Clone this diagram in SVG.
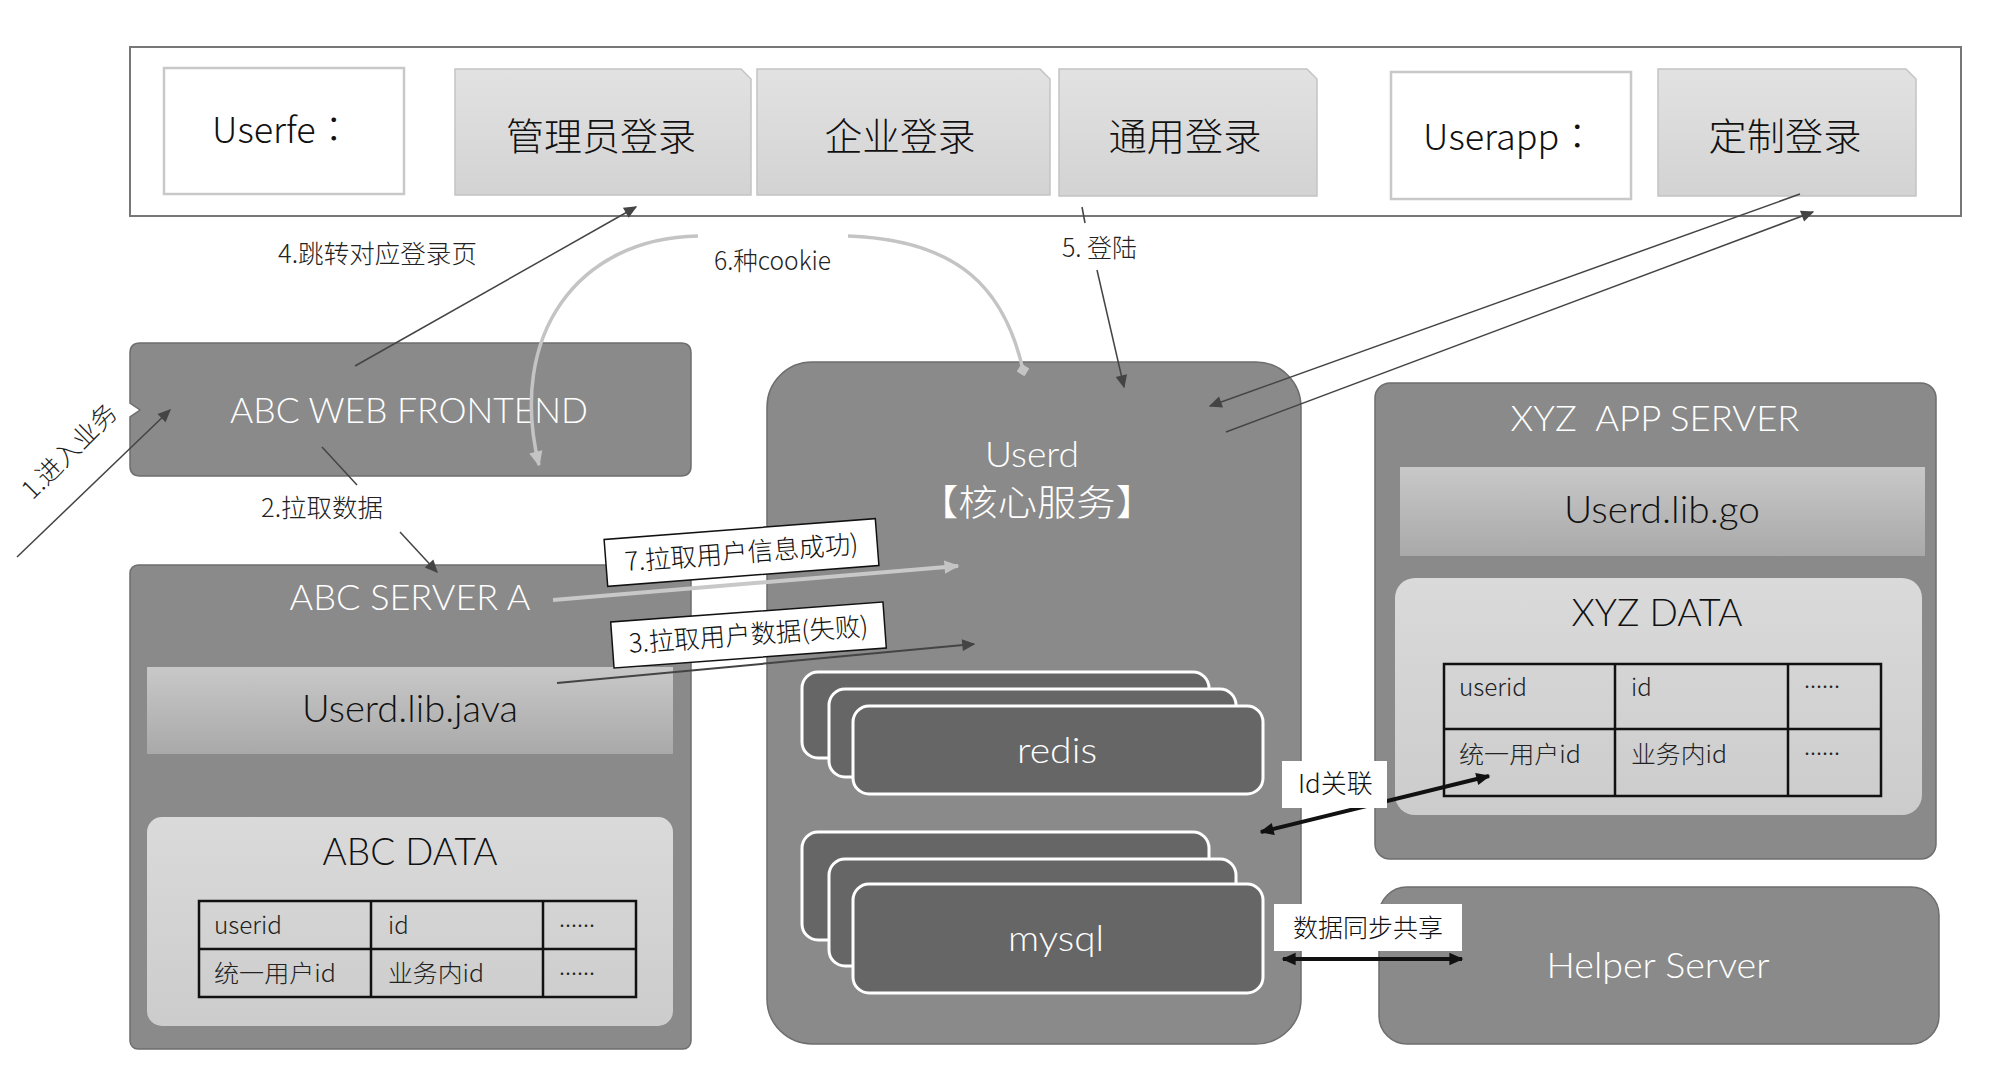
<svg xmlns="http://www.w3.org/2000/svg" width="2000" height="1079" viewBox="0 0 2000 1079">
<style>
text{font-family:"Noto Sans CJK SC","Noto Sans",sans-serif;}
.tc{font-family:"Noto Sans CJK TC","Noto Sans",sans-serif;font-weight:300;}
.la{font-family:"Lato","Noto Sans CJK SC",sans-serif;font-weight:300;}
.big{font-size:38px;fill:#111;font-weight:300;}
.wt{font-size:36px;fill:#fff;}
.bk{font-size:38px;fill:#111;}
.sm{font-size:25.5px;fill:#222;font-weight:300;}
.tb{font-size:24px;fill:#222;font-weight:300;}
.srv{fill:#8a8a8a;stroke:#6e6e6e;stroke-width:1.5;}
.stk{fill:#666;stroke:#fff;stroke-width:3;}
.login{fill:url(#gl);stroke:#c4c4c4;stroke-width:1.5;}
.wbox{fill:#fff;stroke:#c8c8c8;stroke-width:2.5;}
.data{fill:url(#gd);}
.band{fill:url(#gb);}
.grid{fill:none;stroke:#111;stroke-width:2.5;}
.ln{fill:none;stroke:#444;stroke-width:1.5;}
.lbl{fill:#fff;stroke:#111;stroke-width:1.5;}
</style>
<defs>
<linearGradient id="gl" x1="0" y1="0" x2="0" y2="1"><stop offset="0" stop-color="#e2e2e2"/><stop offset="1" stop-color="#d3d3d3"/></linearGradient>
<linearGradient id="gb" x1="0" y1="0" x2="0" y2="1"><stop offset="0" stop-color="#c8c8c8"/><stop offset="1" stop-color="#a9a9a9"/></linearGradient>
<linearGradient id="gd" x1="0" y1="0" x2="0" y2="1"><stop offset="0" stop-color="#dadada"/><stop offset="1" stop-color="#cccccc"/></linearGradient>
<marker id="ah" viewBox="0 0 10 10" refX="9" refY="5" markerWidth="15" markerHeight="13" markerUnits="userSpaceOnUse" orient="auto"><path d="M0,0.5 L10,5 L0,9.5 z" fill="#444"/></marker>
<marker id="ahl" viewBox="0 0 10 10" refX="9" refY="5" markerWidth="17" markerHeight="15" markerUnits="userSpaceOnUse" orient="auto"><path d="M0,0.5 L10,5 L0,9.5 z" fill="#c4c4c4"/></marker>
<marker id="ahb" viewBox="0 0 10 10" refX="9" refY="5" markerWidth="16" markerHeight="14" markerUnits="userSpaceOnUse" orient="auto-start-reverse"><path d="M0,0.5 L10,5 L0,9.5 z" fill="#111"/></marker>
<marker id="dm" viewBox="0 0 10 10" refX="5" refY="5" markerWidth="13" markerHeight="13" markerUnits="userSpaceOnUse" orient="auto"><path d="M0,5 L5,0 L10,5 L5,10 z" fill="#c4c4c4"/></marker>
</defs>

<g id="top-frame">
<rect x="130" y="47" width="1831" height="169" fill="#fff" stroke="#777" stroke-width="2"/>
</g>
<g id="userfe">
<rect class="wbox" x="164" y="68" width="240" height="126"/>
<text class="tc" x="212" y="143" font-size="36" fill="#111">Userfe：</text>
</g>
<g id="login-admin">
<path class="login" d="M455,69 H741 L751,79 V195 H455 Z"/>
<text class="big" x="601" y="150" text-anchor="middle" textLength="190" lengthAdjust="spacingAndGlyphs">管理员登录</text>
</g>
<g id="login-enterprise">
<path class="login" d="M757,69 H1040 L1050,79 V195 H757 Z"/>
<text class="big" x="900" y="150" text-anchor="middle" textLength="151" lengthAdjust="spacingAndGlyphs">企业登录</text>
</g>
<g id="login-common">
<path class="login" d="M1059,69 H1307 L1317,79 V196 H1059 Z"/>
<text class="big" x="1185" y="150" text-anchor="middle" textLength="153" lengthAdjust="spacingAndGlyphs">通用登录</text>
</g>
<g id="userapp">
<rect class="wbox" x="1391" y="72" width="240" height="127"/>
<text class="tc" x="1423" y="150" font-size="36" fill="#111">Userapp：</text>
</g>
<g id="login-custom">
<path class="login" d="M1658,69 H1906 L1916,79 V196 H1658 Z"/>
<text class="big" x="1785" y="150" text-anchor="middle" textLength="153" lengthAdjust="spacingAndGlyphs">定制登录</text>
</g>

<g id="abc-web-frontend">
<path class="srv" d="M140,343 H681 Q691,343 691,353 V466 Q691,476 681,476 H140 Q130,476 130,466 V417 L140,410 L130,403 V353 Q130,343 140,343 Z"/>
<text class="wt la" x="409" y="423" text-anchor="middle" textLength="358" lengthAdjust="spacingAndGlyphs">ABC WEB FRONTEND</text>
</g>

<g id="abc-server-a">
<rect class="srv" x="130" y="565" width="561" height="484" rx="8"/>
<text class="wt la" x="410" y="610" text-anchor="middle" textLength="241" lengthAdjust="spacingAndGlyphs">ABC SERVER A</text>
<rect class="band" x="147" y="667" width="526" height="87"/>
<text class="bk la" x="410" y="722" text-anchor="middle" textLength="216" lengthAdjust="spacingAndGlyphs">Userd.lib.java</text>
<rect class="data" x="147" y="817" width="526" height="209" rx="15"/>
<text class="bk la" x="410" y="865" text-anchor="middle" textLength="175" lengthAdjust="spacingAndGlyphs">ABC DATA</text>
<rect class="grid" x="199" y="901" width="437" height="96"/>
<path class="grid" d="M371,901 V997 M543,901 V997 M199,949 H636"/>
<text class="tb" x="214" y="934" textLength="68" lengthAdjust="spacingAndGlyphs">userid</text>
<text class="tb" x="388" y="934">id</text>
<text class="tb" x="559" y="927" font-size="18">......</text>
<text class="tb" x="214" y="982" textLength="122" lengthAdjust="spacingAndGlyphs">统一用户id</text>
<text class="tb" x="388" y="982" textLength="96" lengthAdjust="spacingAndGlyphs">业务内id</text>
<text class="tb" x="559" y="975" font-size="18">......</text>
</g>

<g id="userd">
<rect class="srv" x="767" y="362" width="534" height="682" rx="45"/>
<text class="wt la" x="1032" y="467" text-anchor="middle" font-size="36" textLength="94" lengthAdjust="spacingAndGlyphs">Userd</text>
<text class="wt" x="1037" y="516" text-anchor="middle" font-size="38" font-weight="300" textLength="236" lengthAdjust="spacingAndGlyphs">【核心服务】</text>
</g>
<g id="redis">
<rect class="stk" x="802" y="672" width="407" height="86" rx="16"/>
<rect class="stk" x="829" y="689" width="407" height="88" rx="16"/>
<rect class="stk" x="853" y="706" width="410" height="88" rx="16"/>
<text class="wt la" x="1057" y="763" text-anchor="middle" font-size="38" textLength="80" lengthAdjust="spacingAndGlyphs">redis</text>
</g>
<g id="mysql">
<rect class="stk" x="802" y="832" width="407" height="108" rx="16"/>
<rect class="stk" x="829" y="859" width="407" height="107" rx="16"/>
<rect class="stk" x="853" y="884" width="410" height="109" rx="16"/>
<text class="wt la" x="1056" y="951" text-anchor="middle" font-size="38" textLength="96" lengthAdjust="spacingAndGlyphs">mysql</text>
</g>

<g id="xyz-app-server">
<rect class="srv" x="1375" y="383" width="561" height="476" rx="15"/>
<text class="wt la" x="1655" y="431" text-anchor="middle" textLength="289" lengthAdjust="spacingAndGlyphs" xml:space="preserve">XYZ  APP SERVER</text>
<rect class="band" x="1400" y="467" width="525" height="89"/>
<text class="bk la" x="1662" y="523" text-anchor="middle" textLength="196" lengthAdjust="spacingAndGlyphs">Userd.lib.go</text>
<rect class="data" x="1395" y="578" width="527" height="237" rx="20"/>
<text class="bk la" x="1657" y="626" text-anchor="middle" textLength="171" lengthAdjust="spacingAndGlyphs">XYZ DATA</text>
<rect class="grid" x="1444" y="664" width="437" height="132"/>
<path class="grid" d="M1615,664 V796 M1788,664 V796 M1444,729 H1881"/>
<text class="tb" x="1459" y="696" textLength="68" lengthAdjust="spacingAndGlyphs">userid</text>
<text class="tb" x="1631" y="696">id</text>
<text class="tb" x="1804" y="688" font-size="18">......</text>
<text class="tb" x="1459" y="763" textLength="122" lengthAdjust="spacingAndGlyphs">统一用户id</text>
<text class="tb" x="1631" y="763" textLength="96" lengthAdjust="spacingAndGlyphs">业务内id</text>
<text class="tb" x="1804" y="755" font-size="18">......</text>
</g>

<g id="helper-server">
<rect class="srv" x="1379" y="887" width="560" height="157" rx="28"/>
<text class="wt la" x="1658" y="978" text-anchor="middle" font-size="38" textLength="223" lengthAdjust="spacingAndGlyphs">Helper Server</text>
</g>

<g id="connectors">
<line class="ln" x1="17" y1="557" x2="170" y2="410" marker-end="url(#ah)"/>
<text class="sm" transform="translate(70 452) rotate(-45)" text-anchor="middle" y="8">1.进入业务</text>

<line class="ln" x1="322" y1="447" x2="357" y2="485"/>
<line class="ln" x1="400" y1="532" x2="437" y2="572" marker-end="url(#ah)"/>
<text class="sm" x="261" y="517" textLength="122" lengthAdjust="spacingAndGlyphs">2.拉取数据</text>

<line class="ln" x1="355" y1="366" x2="636" y2="207" marker-end="url(#ah)"/>
<text class="sm" x="278" y="263" textLength="199" lengthAdjust="spacingAndGlyphs">4.跳转对应登录页</text>

<line class="ln" x1="1082" y1="207" x2="1085" y2="223"/>
<line class="ln" x1="1097" y1="270" x2="1124" y2="387" marker-end="url(#ah)"/>
<text class="sm" x="1062" y="257" xml:space="preserve" textLength="75" lengthAdjust="spacingAndGlyphs">5. 登陆</text>

<line class="ln" x1="1800" y1="194" x2="1210" y2="406" marker-end="url(#ah)"/>
<line class="ln" x1="1226" y1="432" x2="1813" y2="212" marker-end="url(#ah)"/>

<path d="M1023,370 C1005,290 960,240 848,236 M698,236 C578,238 507,335 539,465" fill="none" stroke="#c4c4c4" stroke-width="3.5" marker-start="url(#dm)" marker-end="url(#ahl)"/>
<text class="sm" x="714" y="270" textLength="117" lengthAdjust="spacingAndGlyphs">6.种cookie</text>

<line x1="553" y1="600" x2="958" y2="566" stroke="#c8c8c8" stroke-width="4" marker-end="url(#ahl)"/>
<line x1="557" y1="683" x2="974" y2="644" stroke="#444" stroke-width="2" marker-end="url(#ah)"/>

<g transform="rotate(-4.4 741.5 552.5)">
<rect class="lbl" x="605.5" y="529" width="272" height="47"/>
<text x="741.5" y="562" text-anchor="middle" font-size="26" font-weight="300" fill="#111" textLength="234" lengthAdjust="spacingAndGlyphs">7.拉取用户信息成功)</text>
</g>
<g transform="rotate(-4.2 748.5 635)">
<rect class="lbl" x="612" y="612" width="273" height="46"/>
<text x="748.5" y="644" text-anchor="middle" font-size="26" font-weight="300" fill="#111" textLength="240" lengthAdjust="spacingAndGlyphs">3.拉取用户数据(失败)</text>
</g>

<line x1="1261" y1="832" x2="1489" y2="776" stroke="#111" stroke-width="4" marker-start="url(#ahb)" marker-end="url(#ahb)"/>
<rect x="1282" y="761" width="105" height="47" fill="#fff"/>
<text x="1298" y="793" font-size="26" font-weight="300" fill="#111">Id关联</text>

<line x1="1283" y1="959" x2="1462" y2="959" stroke="#111" stroke-width="4" marker-start="url(#ahb)" marker-end="url(#ahb)"/>
<rect x="1274" y="904" width="188" height="47" fill="#fff"/>
<text x="1368" y="937" text-anchor="middle" font-size="25" font-weight="300" fill="#111">数据同步共享</text>
</g>
</svg>
